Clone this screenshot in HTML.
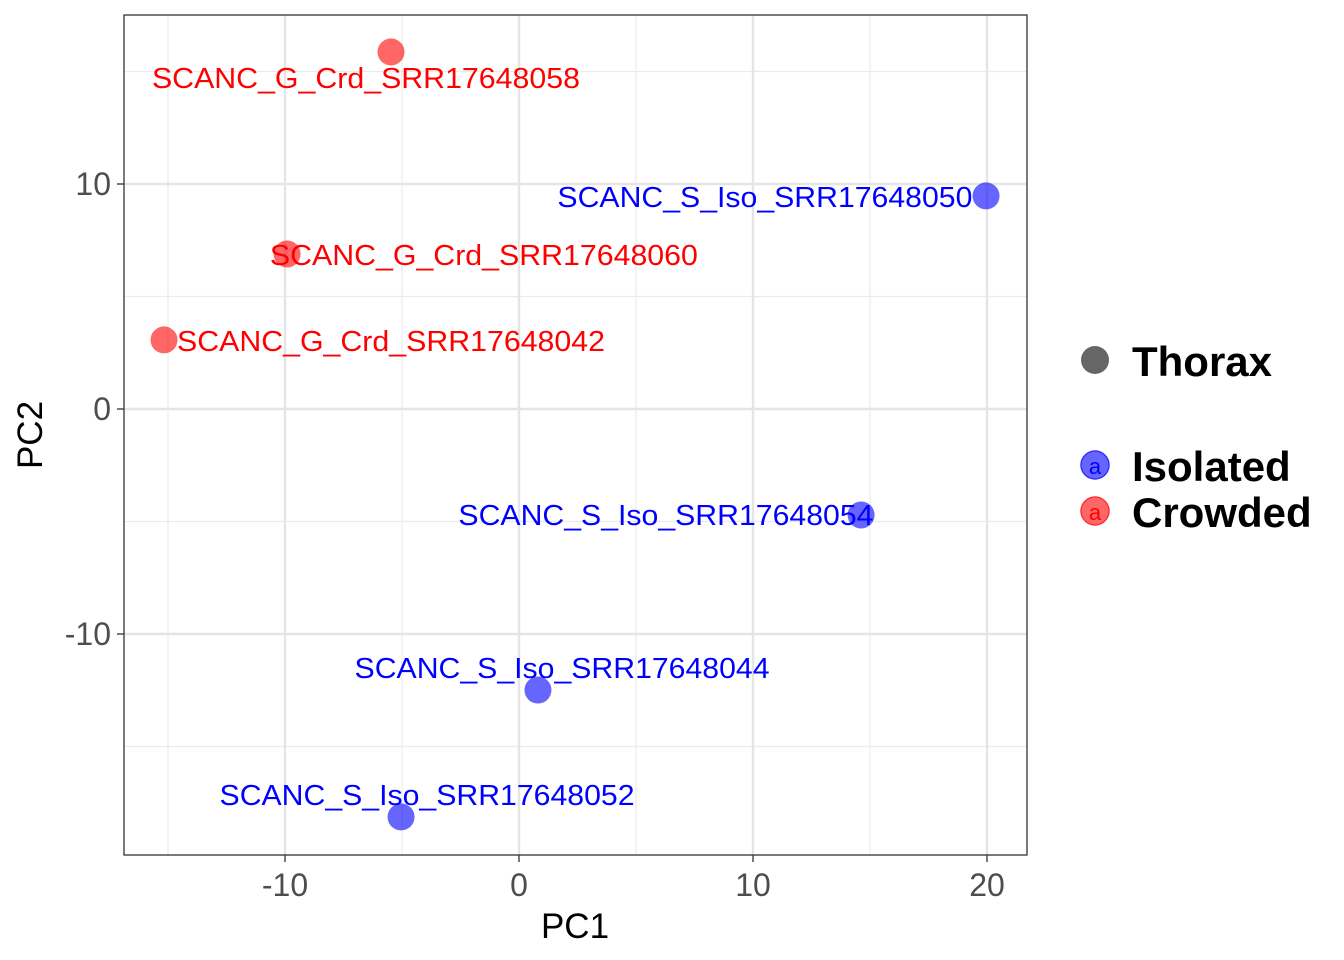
<!DOCTYPE html>
<html><head><meta charset="utf-8"><style>body{margin:0;background:#fff}svg{display:block;font-family:"Liberation Sans",Arial,sans-serif}</style></head>
<body>
<svg id="chart" width="1344" height="960">
<rect x="124" y="15" width="903" height="840" fill="#fff"/>
<g id="grid"></g>
<g id="points"></g>
<rect x="124" y="15" width="903" height="840" fill="none" stroke="#333" stroke-width="1.3"/>
<g id="axes"></g>
<text x="575" y="938" font-size="35" text-anchor="middle">PC1</text>
<text transform="translate(42,435) rotate(-90)" font-size="35" text-anchor="middle">PC2</text>
<g>
<circle cx="1095" cy="360" r="14" fill="#666"/>
<text x="1132" y="376" font-size="42" font-weight="bold">Thorax</text>
<circle cx="1095" cy="465" r="14" fill="#6666ff" stroke="#3333ff" stroke-width="1.5"/>
<text x="1095" y="474" font-size="22" text-anchor="middle" fill="#0000ff">a</text>
<text x="1132" y="481" font-size="42" font-weight="bold">Isolated</text>
<circle cx="1095" cy="511" r="14" fill="#ff6666" stroke="#ff3333" stroke-width="1.5"/>
<text x="1095" y="520" font-size="22" text-anchor="middle" fill="#ff0000">a</text>
<text x="1132" y="527" font-size="42" font-weight="bold">Crowded</text>
</g>
</svg>
<script>
const sampleNames=["SCANC_G_Crd_SRR17648058","SCANC_G_Crd_SRR17648060","SCANC_G_Crd_SRR17648042","SCANC_S_Iso_SRR17648050","SCANC_S_Iso_SRR17648054","SCANC_S_Iso_SRR17648044","SCANC_S_Iso_SRR17648052"];
const groups=["Crowded","Crowded","Crowded","Isolated","Isolated","Isolated","Isolated"];
const pc1=[-5.47,-9.91,-15.17,19.96,14.62,0.81,-5.04];
const pc2=[15.87,6.89,3.07,9.47,-4.71,-12.49,-18.13];
const labelX=[-6.54,-1.50,-5.47,10.51,6.28,1.84,-3.93];
const labelY=[14.71,6.84,3.02,9.42,-4.71,-11.51,-17.16];
const xTicks=[-10,0,10,20];
const yTicks=[-10,0,10];
const xMinor=[-15,-5,5,15];
const yMinor=[-15,-5,5,15];
const NS="http://www.w3.org/2000/svg";
const sx=v=>519+v*23.4, sy=v=>409-v*22.5;
const X0=124,X1=1027,Y0=15,Y1=855;
function mk(t,a,p){const e=document.createElementNS(NS,t);for(const k in a)e.setAttribute(k,a[k]);p.appendChild(e);return e;}
const grid=document.getElementById('grid'),pts=document.getElementById('points'),ax=document.getElementById('axes');
xMinor.forEach(v=>{const l=mk('line',{x1:sx(v),x2:sx(v),y1:Y0,y2:Y1,stroke:'#ebebeb','stroke-width':1.2},grid);

});
yMinor.forEach(v=>{const l=mk('line',{x1:X0,x2:X1,y1:sy(v),y2:sy(v),stroke:'#ebebeb','stroke-width':1.2},grid);

});
xTicks.forEach(v=>{const l=mk('line',{x1:sx(v),x2:sx(v),y1:Y0,y2:Y1,stroke:'#e5e5e5','stroke-width':2.4},grid);


const t=mk('line',{x1:sx(v),x2:sx(v),y1:Y1,y2:Y1+7,stroke:'#333','stroke-width':1.3},ax);


const tx=mk('text',{x:sx(v),y:896,'font-size':32,'text-anchor':'middle',fill:'#4d4d4d'},ax);tx.textContent=v;

});
yTicks.forEach(v=>{const l=mk('line',{x1:X0,x2:X1,y1:sy(v),y2:sy(v),stroke:'#e5e5e5','stroke-width':2.4},grid);


const t=mk('line',{x1:X0-7,x2:X0,y1:sy(v),y2:sy(v),stroke:'#333','stroke-width':1.3},ax);


const tx=mk('text',{x:111,y:sy(v)+11,'font-size':32,'text-anchor':'end',fill:'#4d4d4d'},ax);tx.textContent=v;

});
sampleNames.forEach((n,i)=>{const red=groups[i]==="Crowded";
const c=mk('circle',{cx:sx(pc1[i]),cy:sy(pc2[i]),r:13.5,fill:red?'#ff0000':'#0000ff','fill-opacity':0.6},pts);


const t=mk('text',{x:sx(labelX[i]),y:sy(labelY[i])+10,'font-size':29,'text-anchor':'middle',textLength:red?428:415,lengthAdjust:'spacingAndGlyphs',fill:red?'#ff0000':'#0000ff'},pts);t.textContent=n;

});
</script>
</body></html>
